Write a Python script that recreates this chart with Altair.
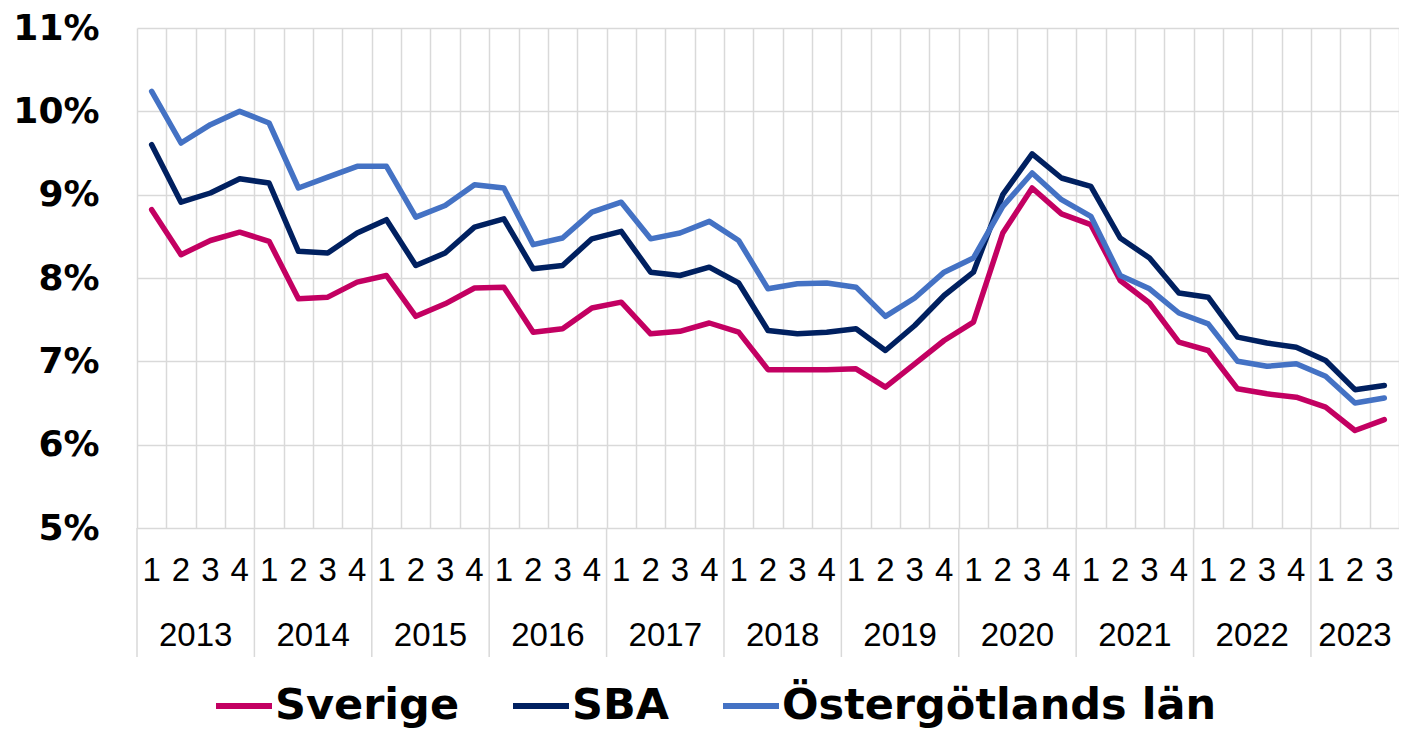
import altair as alt
import pandas as pd

years = [2013] * 4 + [2014] * 4 + [2015] * 4 + [2016] * 4 + [2017] * 4 + [2018] * 4 + \
        [2019] * 4 + [2020] * 4 + [2021] * 4 + [2022] * 4 + [2023] * 3
quarters = [1, 2, 3, 4] * 10 + [1, 2, 3]

series_names = ["Sverige", "SBA", "Östergötlands län"]
series_colors = ["#C30062", "#002060", "#4472C4"]

sverige = [8.82, 8.28, 8.45, 8.55, 8.44, 7.75, 7.77, 7.95, 8.03, 7.54,
           7.69, 7.88, 7.89, 7.35, 7.39, 7.64, 7.71, 7.33, 7.36, 7.46,
           7.35, 6.90, 6.90, 6.90, 6.91, 6.69, 6.97, 7.25, 7.47, 8.54,
           9.08, 8.77, 8.64, 7.97, 7.70, 7.23, 7.13, 6.67, 6.61, 6.57,
           6.45, 6.17, 6.30]
sba = [9.60, 8.91, 9.02, 9.19, 9.14, 8.32, 8.30, 8.54, 8.70, 8.15,
       8.30, 8.61, 8.71, 8.11, 8.15, 8.47, 8.56, 8.07, 8.03, 8.13,
       7.94, 7.37, 7.33, 7.35, 7.39, 7.13, 7.43, 7.79, 8.07, 9.00,
       9.49, 9.20, 9.10, 8.48, 8.24, 7.82, 7.77, 7.29, 7.22, 7.17,
       7.01, 6.66, 6.71]
ostergotland = [10.24, 9.62, 9.84, 10.00, 9.86, 9.08, 9.21, 9.34, 9.34, 8.73,
                8.87, 9.12, 9.08, 8.40, 8.48, 8.79, 8.91, 8.47, 8.54, 8.68,
                8.45, 7.87, 7.93, 7.94, 7.89, 7.54, 7.76, 8.07, 8.24, 8.86,
                9.26, 8.94, 8.74, 8.03, 7.87, 7.58, 7.45, 7.00, 6.94, 6.97,
                6.82, 6.50, 6.56]

y_ticks = [5, 6, 7, 8, 9, 10, 11]

n = len(quarters)
rows = []
for name, vals in zip(series_names, [sverige, sba, ostergotland]):
    for i in range(n):
        rows.append({"idx": i, "year": years[i], "quarter": quarters[i],
                     "series": name, "value": vals[i]})
df = pd.DataFrame(rows)
cat = pd.DataFrame({"idx": list(range(n)), "year": years, "quarter": quarters})

W, H = 1262, 500
grid_color = "#d9d9d9"
xscale = alt.Scale(domain=[-0.5, n - 0.5], nice=False, zero=False)
xaxis = alt.Axis(values=[i - 0.5 for i in range(n + 1)], grid=True, labels=False,
                 ticks=False, domain=False, gridColor=grid_color, gridWidth=1.5,
                 title=None)

lines = alt.Chart(df).mark_line(strokeWidth=5.5, strokeJoin="round", strokeCap="round").encode(
    x=alt.X("idx:Q", scale=xscale, axis=xaxis),
    y=alt.Y("value:Q", scale=alt.Scale(domain=[5, 11], nice=False, zero=False),
            axis=alt.Axis(values=y_ticks, labelExpr="datum.value + '%'",
                          labelFont="DejaVu Sans", labelFontWeight="bold", labelFontSize=36,
                          labelColor="black", labelPadding=38, ticks=False, domain=False,
                          grid=True, gridColor=grid_color, gridWidth=1.5, title=None)),
    color=alt.Color("series:N", sort=series_names,
                    scale=alt.Scale(domain=series_names, range=series_colors),
                    legend=alt.Legend(orient="none", legendX=76, legendY=647,
                                      direction="horizontal", title=None,
                                      labelFont="DejaVu Sans", labelFontWeight="bold",
                                      labelFontSize=43, labelColor="black",
                                      symbolType="stroke", symbolStrokeWidth=6,
                                      symbolSize=3136, labelOffset=0, columnPadding=41,
                                      padding=0, labelLimit=600)),
    detail="series:N",
)

qlabels = alt.Chart(cat).mark_text(font="Liberation Sans", fontSize=33, color="black",
                                    baseline="middle", align="center").encode(
    x=alt.X("idx:Q", scale=xscale, axis=xaxis),
    y=alt.value(542.5),
    text="quarter:N",
)

ylabels = alt.Chart(cat).transform_aggregate(
    center="mean(idx)", groupby=["year"]
).mark_text(font="Liberation Sans", fontSize=33, color="black",
            baseline="middle", align="center").encode(
    x=alt.X("center:Q", scale=xscale, axis=xaxis),
    y=alt.value(607.5),
    text="year:N",
)

seps = alt.Chart(cat).transform_filter("datum.quarter == 1").transform_calculate(
    b="datum.idx - 0.5"
).mark_rule(color=grid_color, strokeWidth=1.5).encode(
    x=alt.X("b:Q", scale=xscale, axis=xaxis),
    y=alt.value(H),
    y2=alt.value(629),
)

chart = alt.layer(seps, lines, qlabels, ylabels).properties(
    width=W, height=H,
    autosize=alt.AutoSizeParams(type="none"),
    padding={"left": 129, "top": 20, "right": 0, "bottom": 200},
    background="white",
).configure_view(stroke=None)

chart.save("out.html", embed_options={"renderer": "svg", "actions": False})
